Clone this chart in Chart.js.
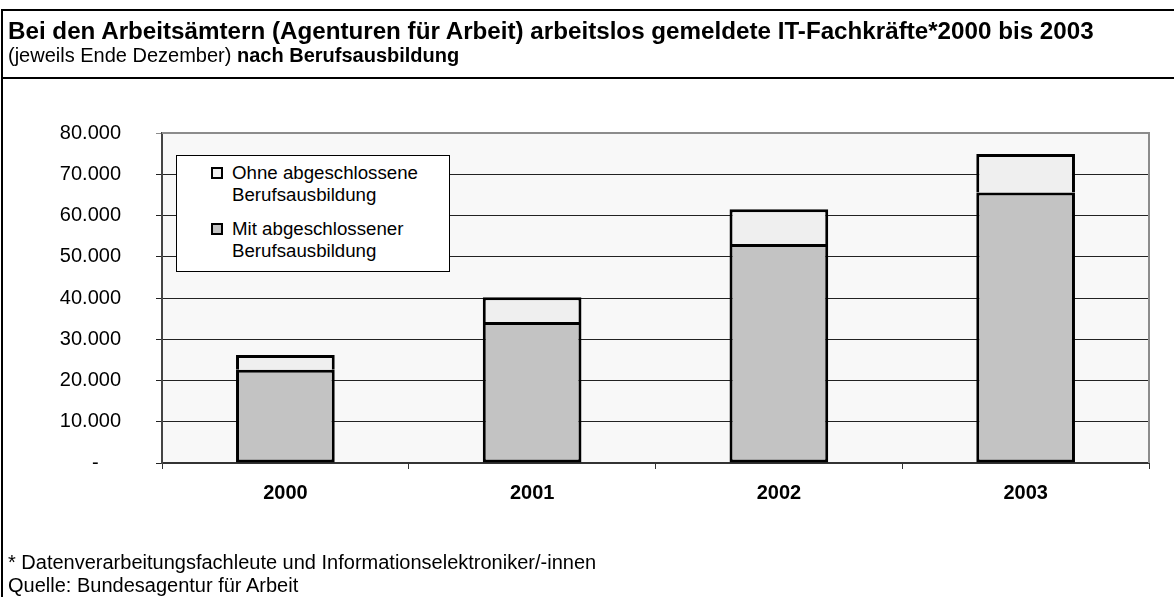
<!DOCTYPE html>
<html>
<head>
<meta charset="utf-8">
<script src="https://cdn.jsdelivr.net/npm/chart.js@4"></script>
<style>
  body { margin: 0; width: 1174px; height: 597px; overflow: hidden; background: #fff;
         font-family: 'Liberation Sans', Arial, sans-serif; color: #000; }
  .abs { position: absolute; }
  #wrap { left: 0; top: 0; width: 1174px; height: 597px; }
  #frameTop { left: 1px; top: 9px; width: 1200px; height: 2px; background: #000; }
  #frameLeft { left: 1px; top: 9px; width: 2px; height: 600px; background: #000; }
  #frameSep { left: 1px; top: 77px; width: 1200px; height: 2px; background: #000; }
  .title { left: 8px; font-size: 20px; line-height: 23px; white-space: nowrap; }
  .foot { left: 8px; font-size: 20px; line-height: 23px; white-space: nowrap; }
  #legend { left: 176px; top: 155px; width: 272px; height: 115px; border: 1px solid #000; background: #fff; }
  .lgItem { position: absolute; left: 34px; font-size: 18.7px; line-height: 22px; white-space: nowrap; }
  .lgBox { position: absolute; left: 34px; width: 8px; height: 8px; border: 2px solid #000; }
</style>
</head>
<body>
<div id="wrap" class="abs"><canvas id="chart"></canvas></div>

<div id="frameTop" class="abs"></div>
<div id="frameLeft" class="abs"></div>
<div id="frameSep" class="abs"></div>

<div class="abs title" style="top:19px; font-size:24.2px"><b>Bei den Arbeitsämtern (Agenturen für Arbeit) arbeitslos gemeldete IT-Fachkräfte*2000 bis 2003</b></div>
<div class="abs title" style="top:44px">(jeweils Ende Dezember) <b>nach Berufsausbildung</b></div>

<div id="legend" class="abs"></div>

<div class="abs foot" style="top:551px">* Datenverarbeitungsfachleute und Informationselektroniker/-innen</div>
<div class="abs foot" style="top:574px">Quelle: Bundesagentur für Arbeit</div>

<script>
// data
const years = ['2000', '2001', '2002', '2003'];
const mitAusbildung = [22600, 34200, 53100, 65600];
const ohneAusbildung = [3600, 6000, 8400, 9300];
const yTicks = [0, 10000, 20000, 30000, 40000, 50000, 60000, 70000, 80000];

const labelMit = ['Mit abgeschlossener', 'Berufsausbildung'];
const labelOhne = ['Ohne abgeschlossene', 'Berufsausbildung'];
const colorMit = '#c3c3c3';
const colorOhne = '#efefef';

const FONT = "'Liberation Sans', Arial, sans-serif";

function fmt(v) {
    if (v === 0) return '-\u00a0\u00a0\u00a0\u00a0';
    return String(v).replace(/\B(?=(\d{3})+(?!\d))/g, '.');
}

// plot background + grey top/right frame like the Excel original
const plotFrame = {
    id: 'plotFrame',
    beforeDraw(chart) {
        const { ctx, chartArea: a } = chart;
        ctx.save();
        ctx.fillStyle = '#f8f8f8';
        ctx.fillRect(a.left, a.top, a.right - a.left, a.bottom - a.top);
        ctx.restore();
    },
    afterDraw(chart) {
        const { ctx, chartArea: a } = chart;
        ctx.save();
        ctx.strokeStyle = '#8c8c8c';
        ctx.lineWidth = 2;
        ctx.beginPath();
        ctx.moveTo(a.left, a.top);
        ctx.lineTo(a.right, a.top);
        ctx.lineTo(a.right, a.bottom);
        ctx.stroke();
        ctx.restore();
    }
};

function buildLegend() {
    const box = document.getElementById('legend');
    const items = [
        { lines: labelOhne, color: colorOhne, top: 6 },
        { lines: labelMit, color: colorMit, top: 62 }
    ];
    items.forEach(it => {
        const sq = document.createElement('div');
        sq.className = 'lgBox';
        sq.style.left = '34px';
        sq.style.top = (it.top + 5) + 'px';
        sq.style.background = it.color;
        box.appendChild(sq);
        const t = document.createElement('div');
        t.className = 'lgItem';
        t.style.left = '55px';
        t.style.top = it.top + 'px';
        t.innerHTML = it.lines.join('<br>');
        box.appendChild(t);
    });
}

function renderChart() {
    const ctx = document.getElementById('chart').getContext('2d');
    new Chart(ctx, {
        type: 'bar',
        data: {
            labels: years,
            datasets: [
                {
                    label: labelMit.join(' '),
                    data: mitAusbildung,
                    backgroundColor: colorMit,
                    borderColor: '#000',
                    borderWidth: 3,
                    borderSkipped: false,
                    barPercentage: 0.8,
                    categoryPercentage: 0.5
                },
                {
                    label: labelOhne.join(' '),
                    data: ohneAusbildung,
                    backgroundColor: colorOhne,
                    borderColor: '#000',
                    borderWidth: { top: 3, left: 3, right: 3, bottom: 0 },
                    borderSkipped: false,
                    barPercentage: 0.8,
                    categoryPercentage: 0.5
                }
            ]
        },
        options: {
            responsive: true,
            maintainAspectRatio: false,
            animation: false,
            layout: { padding: { top: 133, right: 25, bottom: 74, left: 0 } },
            plugins: {
                legend: { display: false },
                tooltip: { enabled: false },
                title: { display: false }
            },
            scales: {
                x: {
                    stacked: true,
                    afterFit: s => { s.height = 60; },
                    border: { color: '#333', width: 2 },
                    grid: { drawOnChartArea: false, offset: true, tickLength: 6, color: '#333' },
                    ticks: { color: '#000', padding: 12, font: { family: FONT, size: 20, weight: 'bold' } }
                },
                y: {
                    stacked: true,
                    min: 0,
                    max: 80000,
                    afterFit: s => { s.width = 162; },
                    afterBuildTicks: s => { s.ticks = yTicks.map(v => ({ value: v })); },
                    border: { color: '#444', width: 2 },
                    grid: {
                        tickLength: 6,
                        lineWidth: 1,
                        color: c => (c.tick && c.tick.value === 80000) ? '#8c8c8c' : '#222'
                    },
                    ticks: {
                        color: '#000',
                        padding: 35,
                        font: { family: FONT, size: 20 },
                        callback: v => fmt(v)
                    }
                }
            }
        },
        plugins: [plotFrame]
    });
}

document.addEventListener('DOMContentLoaded', () => {
    buildLegend();
    renderChart();
});
</script>
</body>
</html>
